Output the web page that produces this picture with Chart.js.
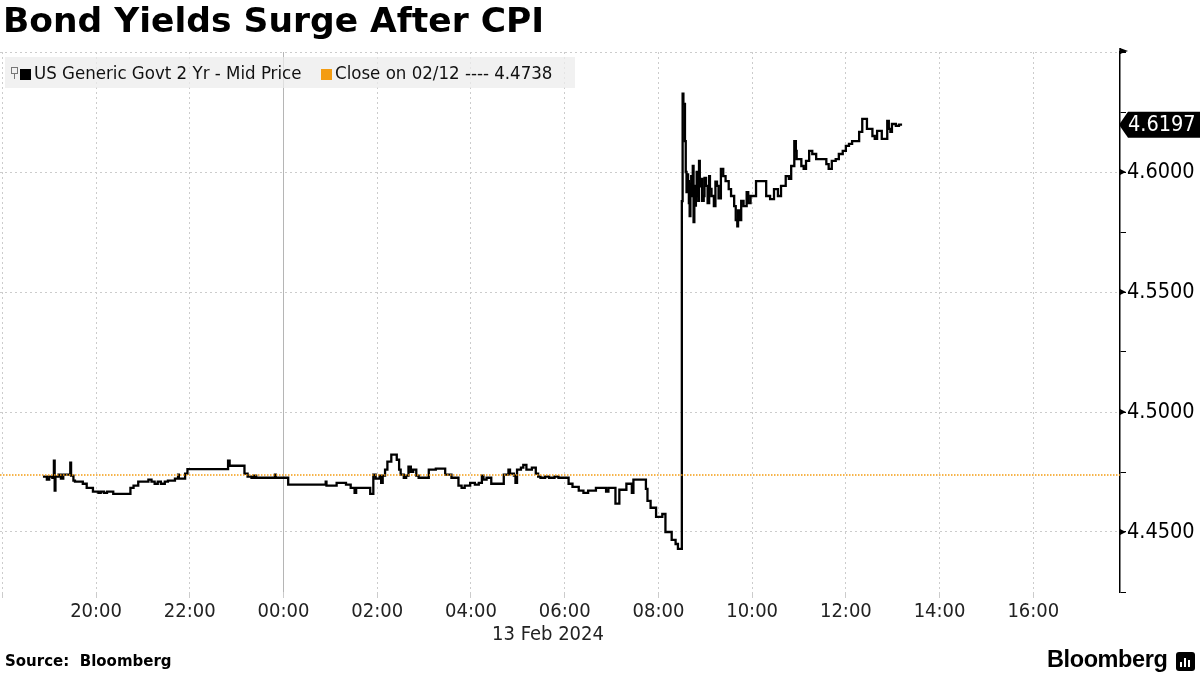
<!DOCTYPE html>
<html lang="en">
<head>
  <meta charset="UTF-8">
  <title>Bond Yields Surge After CPI</title>
  <style>
    body { margin: 0; background: #fff; }
    .page { position: relative; width: 1200px; height: 675px; overflow: hidden; }
    #chart { position: absolute; left: 0; top: 0; }
    .title { position: absolute; left: 3px; top: 0px; font: bold 34.5px "DejaVu Sans", sans-serif; color: #000; white-space: nowrap; }
    .legend { position: absolute; left: 5px; top: 57px; width: 570px; height: 31px; background: rgba(236,236,236,0.75);
      font: 18.5px "DejaVu Sans Condensed", "Liberation Sans", sans-serif; color: #111; line-height: 31px; white-space: nowrap; }
    .legend .ico { position: absolute; left: 6px; top: 10px; width: 5px; height: 5px; border: 1px solid #777; }
    .legend .ico::after { content: ""; position: absolute; left: 2px; top: 6px; width: 1px; height: 5px; background: #777; }
    .legend .sq { display: inline-block; width: 11px; height: 11px; vertical-align: -1px; margin-right: 3px; }
    .legend .l1 { position: absolute; left: 15px; }
    .legend .l2 { position: absolute; left: 316px; }
    .date { position: absolute; left: 548px; top: 621px; transform: translateX(-50%); font: 20px "DejaVu Sans Condensed", "Liberation Sans", sans-serif; color: #222; }
    .source { position: absolute; left: 5px; top: 652px; font: bold 15px "DejaVu Sans", sans-serif; color: #000; }
    .brand { position: absolute; left: 1047px; top: 646px; font: bold 23.5px "Liberation Sans", sans-serif; letter-spacing: -0.4px; color: #000; }
    .brand .mark { position: absolute; left: 129px; top: 6px; width: 19px; height: 19px; background: #000; border-radius: 3px; }
    .brand .mark i { position: absolute; bottom: 4px; width: 2px; background: #fff; }
  </style>
</head>
<body>
<div class="page">
  <canvas id="chart" width="1200" height="675"></canvas>
  <div class="title">Bond Yields Surge After CPI</div>
  <div class="legend">
    <span class="ico"></span>
    <span class="l1"><span class="sq" style="background:#000"></span>US Generic Govt 2 Yr - Mid Price</span>
    <span class="l2"><span class="sq" style="background:#f39c12"></span>Close on 02/12 ---- 4.4738</span>
  </div>
  <div class="date">13 Feb 2024</div>
  <div class="source">Source:&nbsp; Bloomberg</div>
  <div class="brand">Bloomberg<span class="mark"><i style="left:4px;height:5px"></i><i style="left:8px;height:9px"></i><i style="left:12px;height:7px"></i></span></div>
</div>

<script src="https://cdn.jsdelivr.net/npm/chart.js"></script>
<script>
  // times are ET, 12 Feb evening into 13 Feb
  const times = [
    '18:52','18:57','19:00','19:04','19:06','19:07','19:08','19:12','19:15','19:18','19:27','19:28','19:31','19:33','19:43','19:48','19:56',
    '20:03','20:06','20:10','20:14','20:22','20:44','20:48','20:54','21:07','21:11','21:15','21:19','21:23','21:28','21:32','21:41','21:45',
    '21:46','21:54','21:57','22:49','22:51','23:10','23:14','23:19','23:22','23:25','23:49','23:50',
    '00:06','00:54','00:55','01:08','01:20','01:26','01:31','01:33','01:51','01:55','01:58','02:03','02:05','02:07','02:10','02:13','02:18',
    '02:25','02:28','02:30','02:34','02:37','02:40','02:43','02:46','02:50','02:53','03:06','03:15','03:27','03:35','03:44','03:48','03:52',
    '03:59','04:05','04:10','04:14','04:16','04:20','04:26','04:42','04:48','04:50','04:55','04:57','04:59','05:04','05:07','05:11','05:18',
    '05:23','05:26','05:29','05:35','05:40','05:47','05:52','06:05','06:10','06:18','06:24','06:30','06:40','06:53','06:56','07:05','07:10',
    '07:19','07:26','07:28','07:44','07:46','07:50','07:57','08:05','08:09','08:17','08:22','08:25',
    '08:30','08:31','08:32','08:34','08:35','08:36','08:37','08:38','08:39','08:40','08:41','08:42','08:43','08:44','08:45','08:46','08:47',
    '08:48','08:49','08:50','08:51','08:52','08:53','08:55','08:56','08:58','08:59',
    '09:01','09:03','09:05','09:06','09:08','09:11','09:13','09:15','09:17','09:20','09:23','09:26','09:30','09:33','09:37','09:39','09:41',
    '09:42','09:44','09:46','09:49','09:53','09:55',
    '09:58','10:05','10:18','10:23','10:28','10:33','10:37','10:43','10:47','10:50','10:54','10:56','10:57','11:03','11:06','11:09','11:13',
    '11:17','11:22','11:35','11:38','11:42','11:47','11:51','11:56','12:00','12:04','12:08','12:17','12:21','12:27','12:34','12:37','12:40',
    '12:46','12:53','12:55','12:57','12:59','13:04','13:08','13:12'
  ];
  const yields = [
    4.4731,4.4718,4.4731,4.4726,4.4797,4.4672,4.4731,4.4739,4.4722,4.4739,4.4789,4.4735,4.4714,4.4710,4.4701,4.4684,4.4668,
    4.4663,4.4668,4.4663,4.4668,4.4659,4.4684,4.4693,4.4710,4.4718,4.4710,4.4701,4.4710,4.4701,4.4710,4.4714,4.4722,4.4739,
    4.4722,4.4743,4.4762,4.4797,4.4776,4.4743,4.4731,4.4726,4.4735,4.4726,4.4739,4.4726,
    4.4697,4.4710,4.4693,4.4705,4.4697,4.4684,4.4663,4.4684,4.4659,4.4739,4.4722,4.4735,4.4705,4.4735,4.4760,4.4793,4.4822,
    4.4801,4.4760,4.4739,4.4726,4.4735,4.4772,4.4751,4.4760,4.4735,4.4726,4.4760,4.4764,4.4739,4.4726,4.4693,4.4684,4.4693,
    4.4705,4.4697,4.4705,4.4735,4.4718,4.4726,4.4701,4.4739,4.4760,4.4743,4.4735,4.4705,4.4760,4.4768,4.4780,4.4760,4.4768,
    4.4743,4.4731,4.4726,4.4731,4.4726,4.4731,4.4726,4.4701,4.4688,4.4672,4.4663,4.4672,4.4684,4.4668,4.4684,4.4618,4.4676,
    4.4701,4.4663,4.4718,4.4680,4.4630,4.4601,4.4563,4.4575,4.4500,4.4467,4.4450,4.4430,
    4.5879,4.6326,4.6284,4.6129,4.6000,4.5916,4.5990,4.5962,4.5870,4.5816,4.5950,4.5983,4.5900,4.6025,4.5791,4.5942,4.5860,
    4.5900,4.6000,4.5962,4.5880,4.6046,4.5940,4.5971,4.5880,4.5900,4.5975,
    4.5942,4.5870,4.5983,4.5930,4.5900,4.5858,4.5960,4.5942,4.5890,4.6013,4.5983,4.5962,4.5929,4.5900,4.5858,4.5800,4.5774,
    4.5840,4.5800,4.5880,4.5858,4.5916,4.5870,
    4.5900,4.5962,4.5900,4.5887,4.5929,4.5900,4.5942,4.5983,4.5971,4.6025,4.6129,4.6088,4.6054,4.6025,4.6013,4.6046,4.6088,
    4.6075,4.6054,4.6033,4.6013,4.6046,4.6054,4.6075,4.6088,4.6109,4.6117,4.6129,4.6167,4.6221,4.6180,4.6150,4.6138,4.6171,
    4.6138,4.6213,4.6180,4.6167,4.6200,4.6192,4.6197,4.6197
  ];
  const prevClose = 4.4738;

  const xTicks = [18, 20, 22, 24, 26, 28, 30, 32, 34, 36, 38, 40];   // hours from 12 Feb 00:00
  const yTicks = [4.425, 4.45, 4.475, 4.5, 4.525, 4.55, 4.575, 4.6, 4.625, 4.65];
  const yLabels = [4.45, 4.5, 4.55, 4.6];
  const xMin = 17.95, xMax = 41.85;

  function toHours(s) {
    const [h, m] = s.split(':').map(Number);
    return (h < 18 ? h + 24 : h) + m / 60;
  }
  const pad = n => String(n).padStart(2, '0');
  const near = (a, b) => Math.abs(a - b) < 1e-6;

  const series = times.map((t, i) => ({ x: toHours(t), y: yields[i] }));

  const xFont = { family: '"DejaVu Sans Condensed", "Liberation Sans", sans-serif', size: 20 };
  const yFont = { family: '"DejaVu Sans Condensed", "Liberation Sans", sans-serif', size: 21.5 };

  // y axis decorations: top arrow, major tick pointers, last value tag
  const axisDecor = {
    id: 'axisDecor',
    afterDraw(chart) {
      const { ctx, chartArea } = chart;
      const y = chart.scales.y;
      const ax = chartArea.right;
      ctx.save();
      ctx.fillStyle = '#000';
      ctx.beginPath();
      ctx.moveTo(ax, chartArea.top - 4);
      ctx.lineTo(ax + 8, chartArea.top - 1);
      ctx.lineTo(ax, chartArea.top + 2);
      ctx.fill();
      ctx.fillRect(ax - 0.75, chartArea.top - 4, 1.5, 6);
      yLabels.forEach(v => {
        const py = y.getPixelForValue(v);
        ctx.beginPath();
        ctx.moveTo(ax, py - 3);
        ctx.lineTo(ax + 6, py);
        ctx.lineTo(ax, py + 3);
        ctx.fill();
      });
      const last = yields[yields.length - 1];
      const ly = y.getPixelForValue(last);
      ctx.beginPath();
      ctx.moveTo(ax - 1, ly);
      ctx.lineTo(ax + 8, ly - 13);
      ctx.lineTo(1200, ly - 13);
      ctx.lineTo(1200, ly + 13);
      ctx.lineTo(ax + 8, ly + 13);
      ctx.closePath();
      ctx.fill();
      ctx.fillStyle = '#fff';
      ctx.font = '21.5px "DejaVu Sans Condensed", "Liberation Sans", sans-serif';
      ctx.textBaseline = 'middle';
      ctx.fillText(last.toFixed(4), ax + 8, ly + 1);
      ctx.restore();
    }
  };

  new Chart(document.getElementById('chart'), {
    type: 'line',
    data: {
      datasets: [
        {
          label: 'Close on 02/12',
          data: [{ x: xMin, y: prevClose }, { x: xMax, y: prevClose }],
          borderColor: '#f39c12',
          borderWidth: 1.5,
          borderDash: [1.5, 1.5],
          pointRadius: 0
        },
        {
          label: 'US Generic Govt 2 Yr - Mid Price',
          data: series,
          stepped: true,
          borderColor: '#000',
          borderWidth: 2.3,
          pointRadius: 0
        }
      ]
    },
    options: {
      responsive: false,
      animation: false,
      layout: { padding: { top: 52, left: 0, right: 0, bottom: 0 } },
      plugins: { legend: { display: false }, tooltip: { enabled: false } },
      scales: {
        x: {
          type: 'linear',
          min: xMin,
          max: xMax,
          afterBuildTicks: s => { s.ticks = xTicks.map(v => ({ value: v })); },
          afterFit: s => { s.height = 83; },
          ticks: {
            autoSkip: false,
            maxRotation: 0,
            padding: 2,
            color: '#222',
            font: xFont,
            callback: v => v === 18 ? '' : pad(v % 24) + ':00'
          },
          grid: {
            color: c => c.tick && c.tick.value === 24 ? '#b5b5b5' : '#cccccc',
            lineWidth: 1,
            tickLength: 6,
            tickColor: '#cccccc'
          },
          border: {
            display: false,
            dash: c => c.tick && c.tick.value === 24 ? [] : [2, 3]
          }
        },
        y: {
          position: 'right',
          min: 4.425,
          max: 4.65,
          afterBuildTicks: s => { s.ticks = yTicks.map(v => ({ value: v })); },
          afterFit: s => { s.width = 80; },
          ticks: {
            padding: 1,
            color: '#000',
            font: yFont,
            callback: v => yLabels.some(l => near(l, v)) ? v.toFixed(4) : ''
          },
          grid: {
            color: c => c.tick && (yLabels.some(l => near(l, c.tick.value)) || near(c.tick.value, 4.65)) ? '#cccccc' : 'rgba(0,0,0,0)',
            tickLength: 6,
            tickColor: '#000',
            tickWidth: 1
          },
          border: { display: true, color: '#000', width: 1.5, dash: [2, 3] }
        }
      }
    },
    plugins: [axisDecor]
  });
</script>
</body>
</html>
